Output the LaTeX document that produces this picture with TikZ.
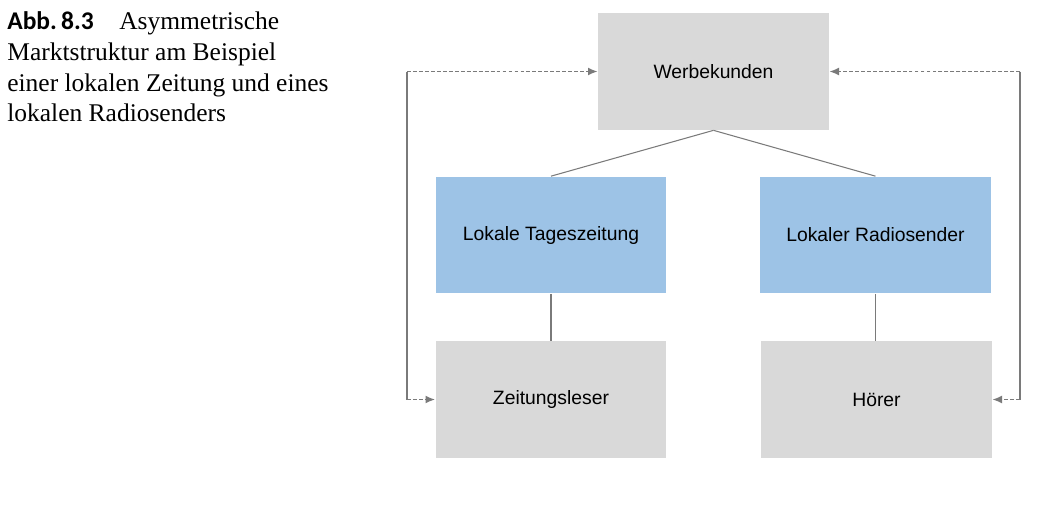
\documentclass[tikz,border=0pt]{standalone}
\usepackage{fontspec}
\setmainfont{Liberation Serif}
\setsansfont{Liberation Sans}
\newfontfamily\capfont{Carlito}
\usetikzlibrary{arrows.meta}
\definecolor{boxgrey}{HTML}{D9D9D9}
\definecolor{boxblue}{HTML}{9DC3E6}
\definecolor{linegrey}{HTML}{7A7A7A}

\begin{document}
\begin{tikzpicture}[x=0.02cm,y=-0.02cm]
  \tikzstyle{every node}+=[inner sep=0pt]
  \tikzstyle{greybox}=[fill=boxgrey, minimum width=4.62cm, minimum height=2.34cm, font=\sffamily\fontsize{11}{13}\selectfont]
  \tikzstyle{bluebox}=[greybox, fill=boxblue]
  \tikzstyle{link}=[linegrey, line width=0.6pt]
  \tikzstyle{loopline}=[linegrey, line width=0.9pt]
  \tikzstyle{looparrow}=[loopline, dash pattern=on 2.2pt off 1.2pt, -{Latex[length=5.5pt,width=4.5pt]}]
  \useasboundingbox (0,0) rectangle (1041,508);
  \node [anchor=north west, align=left, font=\fontsize{14.5}{17.6}\selectfont] (caption) at (7,11)
    {{\capfont\bfseries Abb.\,8.3}\quad Asymmetrische\\Marktstruktur am Beispiel\\einer lokalen Zeitung und eines\\lokalen Radiosenders};
  \node [greybox] (kunden) at (713.5,71.5) {Werbekunden};
  \node [bluebox] (zeitung) at (551,235) {Lokale Tageszeitung};
  \node [bluebox] (radio) at (875.5,235) {Lokaler Radiosender};
  \node [greybox] (leser) at (551,399.5) {Zeitungsleser};
  \node [greybox] (hoerer) at (876.5,399.5) {Hörer};
  \draw [link] (kunden.south) -- (zeitung.north);
  \draw [link] (kunden.south) -- (radio.north);
  \draw [link] (zeitung.south) -- (leser.north);
  \draw [link] (radio.south) -- (radio.south |- leser.north);
  % loops back to the advertisers
  \coordinate (lefttop) at (407,71.5);
  \coordinate (leftbot) at (407,399.5);
  \coordinate (righttop) at (1020,71.5);
  \coordinate (rightbot) at (1020,399.5);
  \draw [loopline] (lefttop) -- (leftbot);
  \draw [looparrow] (lefttop) -- (kunden.west);
  \draw [looparrow] (leftbot) -- (leser.west);
  \draw [loopline] (righttop) -- (rightbot);
  \draw [looparrow] (righttop) -- (kunden.east);
  \draw [looparrow] (rightbot) -- (hoerer.east);
\end{tikzpicture}
\end{document}
